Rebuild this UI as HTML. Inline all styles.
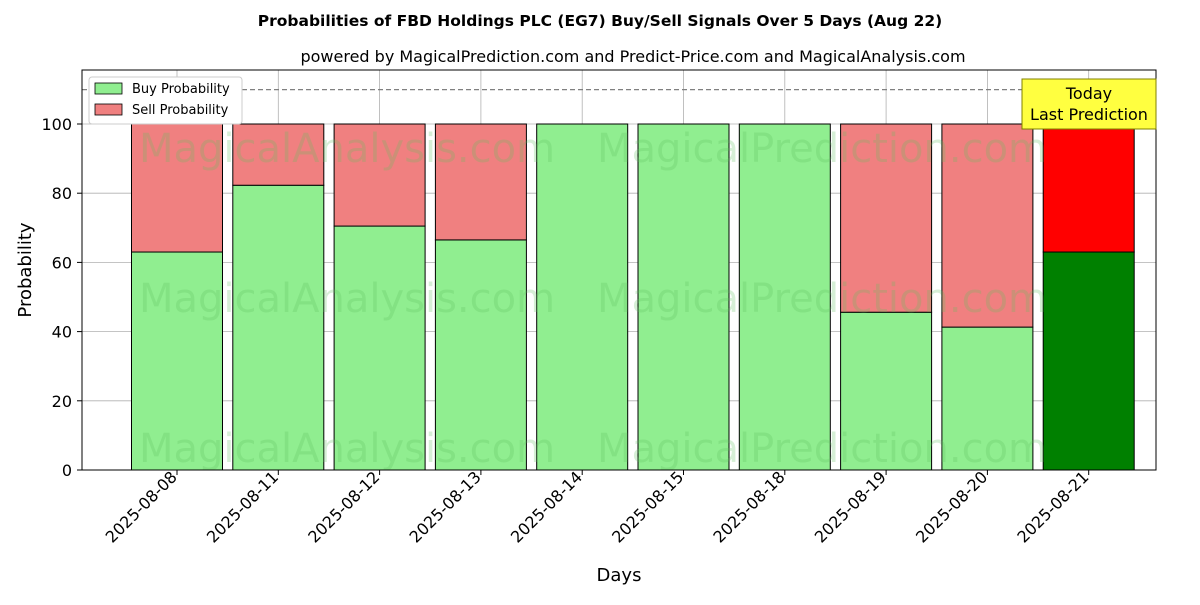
<!DOCTYPE html>
<html><head><meta charset="utf-8"><style>
html,body{margin:0;padding:0;background:#fff;}
svg text{font-family:"DejaVu Sans","Liberation Sans",sans-serif;}
</style></head><body>
<svg id="chart" width="1200" height="600" xmlns="http://www.w3.org/2000/svg">
<text x="600" y="26" text-anchor="middle" font-size="15.5" font-weight="bold">Probabilities of FBD Holdings PLC (EG7) Buy/Sell Signals Over 5 Days (Aug 22)</text>
<text x="633" y="62" text-anchor="middle" font-size="16">powered by MagicalPrediction.com and Predict-Price.com and MagicalAnalysis.com</text>
<g id="grid"></g>
<g id="bars"></g>
<g id="wm" fill="#60c060" opacity="0.25" font-size="40">
<text x="347" y="162" text-anchor="middle">MagicalAnalysis.com</text>
<text x="822" y="162" text-anchor="middle">MagicalPrediction.com</text>
<text x="347" y="312" text-anchor="middle">MagicalAnalysis.com</text>
<text x="822" y="312" text-anchor="middle">MagicalPrediction.com</text>
<text x="347" y="462" text-anchor="middle">MagicalAnalysis.com</text>
<text x="822" y="462" text-anchor="middle">MagicalPrediction.com</text>
</g>
<line x1="82" x2="1156" y1="89.6" y2="89.6" stroke="#808080" stroke-width="1.2" stroke-dasharray="5,3"/>
<rect x="82" y="70" width="1074" height="400" fill="none" stroke="#000" stroke-width="1"/>
<g id="axes"></g>
<text transform="translate(31,270) rotate(-90)" text-anchor="middle" font-size="18">Probability</text>
<text x="619" y="581" text-anchor="middle" font-size="18">Days</text>
<g>
<rect x="89" y="77" width="153" height="47" fill="#fff" stroke="#ccc" rx="3"/>
<rect x="95" y="83" width="27" height="11" fill="#90ee90" stroke="#000" stroke-width="0.8"/>
<text x="132" y="93" font-size="13">Buy Probability</text>
<rect x="95" y="104" width="27" height="11" fill="#f08080" stroke="#000" stroke-width="0.8"/>
<text x="132" y="114" font-size="13">Sell Probability</text>
</g>
<g>
<rect x="1022" y="79" width="134" height="50" fill="#ffff40" stroke="#808000" stroke-width="1"/>
<text x="1089" y="99" text-anchor="middle" font-size="16">Today</text>
<text x="1089" y="120" text-anchor="middle" font-size="16">Last Prediction</text>
</g>
</svg>
<script>
const dates=["2025-08-08","2025-08-11","2025-08-12","2025-08-13","2025-08-14","2025-08-15","2025-08-18","2025-08-19","2025-08-20","2025-08-21"];
const buyValues=[63,82.3,70.5,66.5,100,100,100,45.6,41.3,63];
const sellValues=[37,17.7,29.5,33.5,0,0,0,54.4,58.7,37];
const yTicks=[0,20,40,60,80,100];
const NS="http://www.w3.org/2000/svg";
const y=v=>470-v*3.46;
const x=i=>177+i*101.3;
const bw=91;
function mk(tag,attrs,parent){const e=document.createElementNS(NS,tag);for(const k in attrs)e.setAttribute(k,attrs[k]);parent.appendChild(e);return e;}
const grid=document.getElementById('grid'),bars=document.getElementById('bars'),axes=document.getElementById('axes');
yTicks.forEach(t=>{
 const g=mk('line',{x1:82,x2:1156,y1:y(t),y2:y(t),stroke:'#b0b0b0','stroke-width':0.8},grid);
 
 
 mk('line',{x1:77,x2:82,y1:y(t),y2:y(t),stroke:'#000'},axes);
 const tx=mk('text',{x:72,y:y(t)+6,'text-anchor':'end','font-size':16},axes);
 tx.textContent=t;
 
 
});
dates.forEach((d,i)=>{
 const cx=x(i);
 const g=mk('line',{x1:cx,x2:cx,y1:70,y2:470,stroke:'#b0b0b0','stroke-width':0.8},grid);
 
 
 const last=i===dates.length-1;
 const b=mk('rect',{x:cx-bw/2,y:y(buyValues[i]),width:bw,height:buyValues[i]*3.46,fill:last?'#008000':'#90ee90',stroke:'#000','stroke-width':1},bars);
 
 
 const s=mk('rect',{x:cx-bw/2,y:y(buyValues[i]+sellValues[i]),width:bw,height:sellValues[i]*3.46,fill:last?'#ff0000':'#f08080',stroke:'#000','stroke-width':1},bars);
 
 
 mk('line',{x1:cx,x2:cx,y1:470,y2:475,stroke:'#000'},axes);
 const tx=mk('text',{transform:`translate(${cx+1},${478}) rotate(-45)`,'text-anchor':'end','font-size':16},axes);
 tx.textContent=d;
 
 
});
</script>
</body></html>
